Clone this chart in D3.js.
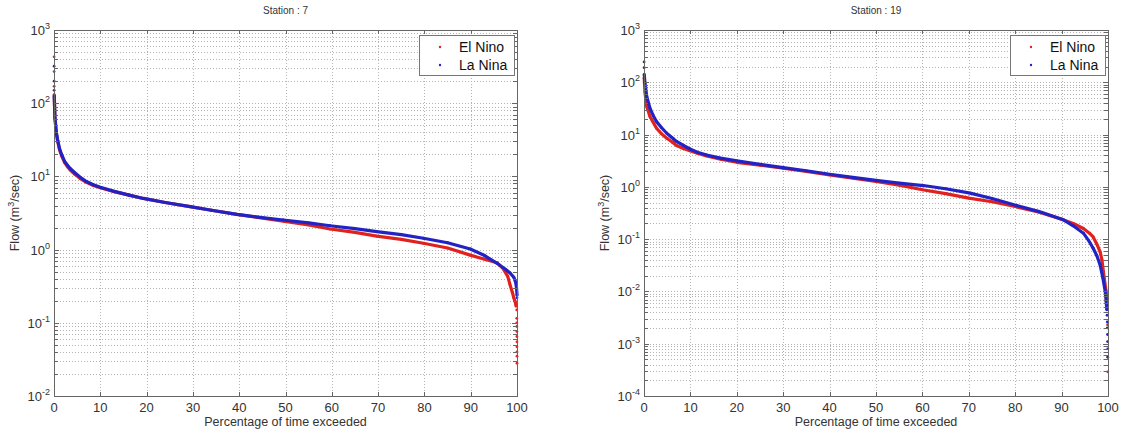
<!DOCTYPE html>
<html>
<head>
<meta charset="utf-8">
<script src="https://cdn.jsdelivr.net/npm/d3@7"></script>
<style>
  html, body { margin: 0; padding: 0; background: #fff; }
  svg { display: block; font-family: "Liberation Sans", Arial, sans-serif; }
</style>
</head>
<body>
<script>
// ---- Flow duration data: [percentage of time exceeded, flow (m3/sec)] ----

// Station 7
const elNino7 = [[0.05,130],[0.2,62],[0.5,39],[0.8,30],[1.2,23],[1.7,18.8],[2.3,15.4],[3,13.3],[3.5,12.2],[4.5,10.7],[5.6,9.4],[7,8.3],[8.5,7.5],[10,7.0],[12.8,6.25],[16,5.6],[19.3,5.0],[24,4.4],[29.4,3.87],[34,3.45],[39.5,3.03],[44,2.76],[49.5,2.45],[55,2.17],[59.6,1.91],[65,1.72],[69.7,1.53],[75,1.38],[79.8,1.22],[85,1.05],[89.9,0.84],[93,0.74],[95.7,0.66],[97,0.55],[98,0.43],[98.5,0.33],[99,0.26],[99.3,0.22],[99.6,0.195],[99.8,0.17]];
const laNina7 = [[0.05,125],[0.2,65],[0.5,40],[0.8,31],[1.2,24],[1.7,19.5],[2.3,16],[3,14],[3.5,12.8],[4.5,11.2],[5.6,9.8],[7,8.5],[8.5,7.7],[10,7.1],[12.8,6.3],[16,5.6],[19.3,5.0],[24,4.4],[29.4,3.87],[34,3.45],[39.5,3.03],[44,2.78],[49.5,2.54],[55,2.32],[59.6,2.12],[65,1.93],[69.7,1.76],[75,1.6],[79.8,1.43],[85,1.24],[89.9,1.02],[93,0.83],[95.7,0.65],[97.5,0.54],[98.5,0.48],[99.3,0.42],[99.7,0.36],[99.9,0.3],[100,0.24]];
// isolated extreme values at either end of the record
const elNino7Extremes = [[0.02,430],[0.02,270],[0.03,170],[99.95,0.15],[99.95,0.115],[99.97,0.1],[99.97,0.089],[99.98,0.076],[99.98,0.065],[99.99,0.055],[99.99,0.047],[100,0.04],[100,0.035],[100,0.028]];
const laNina7Extremes = [[0.02,320],[0.02,200],[0.03,150],[100,0.22]];

// Station 19
const elNino19 = [[0.05,120],[0.2,66],[0.6,34],[1.3,22],[2,17],[2.7,13.2],[3.8,10.3],[4.9,8.5],[6,7.3],[7,6.2],[8.5,5.4],[9.9,4.9],[11.5,4.4],[13.5,3.9],[16.5,3.4],[20,2.95],[25,2.6],[30,2.27],[35,1.97],[40,1.69],[45,1.47],[50,1.27],[55,1.08],[60,0.88],[65,0.74],[70,0.61],[75,0.52],[80,0.42],[85,0.33],[90,0.24],[92.5,0.2],[94.7,0.16],[96,0.13],[96.8,0.11],[97.6,0.08],[98.3,0.057],[98.7,0.04],[99,0.024],[99.3,0.015],[99.6,0.01],[99.75,0.007]];
const laNina19 = [[0.05,140],[0.2,100],[0.6,53],[1.3,31.6],[2,23],[2.7,17.7],[3.8,13.5],[4.9,10.6],[6,8.8],[7,7.4],[8.5,6.2],[9.9,5.3],[11.5,4.6],[13.5,4.07],[16.5,3.55],[20,3.13],[25,2.7],[30,2.33],[35,2.03],[40,1.74],[45,1.52],[50,1.33],[55,1.18],[60.2,1.06],[65,0.92],[70.3,0.76],[75,0.6],[80.3,0.44],[85,0.34],[90.4,0.234],[92.5,0.18],[94.7,0.13],[95.8,0.095],[96.8,0.067],[97.6,0.048],[98.3,0.032],[98.9,0.018],[99.4,0.01],[99.6,0.0065],[99.75,0.0045]];
const elNino19Extremes = [[99.9,0.0023],[99.95,0.00055],[99.95,0.00029]];
const laNina19Extremes = [[0.02,245],[0.02,190],[99.8,0.0035],[99.85,0.0026],[99.85,0.002],[99.9,0.0015],[99.9,0.0011],[99.95,0.0008],[99.95,0.00056]];

// ---- Axis ticks and labels ----
const xTicks = [0, 10, 20, 30, 40, 50, 60, 70, 80, 90, 100];
const yExponents7 = [-2, -1, 0, 1, 2, 3];
const yExponents19 = [-4, -3, -2, -1, 0, 1, 2, 3];
const stationTitles = ["Station : 7", "Station : 19"];
const seriesNames = ["El Nino", "La Nina"];
const xAxisLabel = "Percentage of time exceeded";

const colors = { elNino: "#e0221f", laNina: "#2323c4" };
const axisColor = "#666";
const textColor = "#333";

const svg = d3.select("body").append("svg")
  .attr("width", 1125).attr("height", 430);

function drawPanel(cfg) {
  const x = d3.scaleLinear().domain([0, 100]).range([cfg.left, cfg.right]);
  const y = d3.scaleLog()
    .domain([Math.pow(10, d3.min(cfg.exponents)), Math.pow(10, d3.max(cfg.exponents))])
    .range([cfg.bottom, cfg.top]);
  const g = svg.append("g");

  const yTickVals = y.ticks();
  const decadeVals = cfg.exponents.map(e => Math.pow(10, e));

  // dotted grid
  const grid = g.append("g")
    .attr("stroke", "#b4b4b4").attr("stroke-width", 1)
    .attr("stroke-dasharray", "1,2").attr("shape-rendering", "crispEdges");
  grid.selectAll("line.h").data(yTickVals.filter(v => v > y.domain()[0] * 1.0001 && v < y.domain()[1] * 0.9999))
    .join("line").attr("class", "h")
    .attr("x1", cfg.left).attr("x2", cfg.right)
    .attr("y1", d => Math.round(y(d)) + 0.5).attr("y2", d => Math.round(y(d)) + 0.5);
  grid.selectAll("line.v").data(xTicks.slice(1, -1))
    .join("line").attr("class", "v")
    .attr("y1", cfg.top).attr("y2", cfg.bottom)
    .attr("x1", d => Math.round(x(d)) + 0.5).attr("x2", d => Math.round(x(d)) + 0.5);

  // series
  const line = d3.line().x(d => x(d[0])).y(d => y(d[1]));
  cfg.series.forEach(s => {
    const sg = g.append("g");
    sg.append("path").datum(s.values)
      .attr("fill", "none").attr("stroke", s.color)
      .attr("stroke-width", 3.2).attr("stroke-linejoin", "round").attr("stroke-linecap", "round")
      .attr("d", line);
    sg.selectAll("circle").data(s.values.concat(s.extremes))
      .join("circle")
      .attr("cx", d => x(d[0])).attr("cy", d => y(d[1]))
      .attr("r", 1.4).attr("fill", s.color);
  });

  // axes box
  g.append("rect")
    .attr("x", cfg.left + 0.5).attr("y", cfg.top + 0.5)
    .attr("width", cfg.right - cfg.left).attr("height", cfg.bottom - cfg.top)
    .attr("fill", "none").attr("stroke", axisColor).attr("stroke-width", 1);

  // tick marks, pointing inward on all four sides
  const ticks = g.append("g").attr("stroke", axisColor).attr("stroke-width", 1)
    .attr("shape-rendering", "crispEdges");
  const tl = 4;
  ticks.selectAll("line.xb").data(xTicks).join("line").attr("class", "xb")
    .attr("x1", d => Math.round(x(d)) + 0.5).attr("x2", d => Math.round(x(d)) + 0.5)
    .attr("y1", cfg.bottom).attr("y2", cfg.bottom - tl);
  ticks.selectAll("line.xt").data(xTicks).join("line").attr("class", "xt")
    .attr("x1", d => Math.round(x(d)) + 0.5).attr("x2", d => Math.round(x(d)) + 0.5)
    .attr("y1", cfg.top).attr("y2", cfg.top + tl);
  ticks.selectAll("line.yl").data(yTickVals).join("line").attr("class", "yl")
    .attr("y1", d => Math.round(y(d)) + 0.5).attr("y2", d => Math.round(y(d)) + 0.5)
    .attr("x1", cfg.left).attr("x2", d => cfg.left + (decadeVals.some(v => Math.abs(v - d) < v * 1e-6) ? tl + 1 : tl));
  ticks.selectAll("line.yr").data(yTickVals).join("line").attr("class", "yr")
    .attr("y1", d => Math.round(y(d)) + 0.5).attr("y2", d => Math.round(y(d)) + 0.5)
    .attr("x1", cfg.right).attr("x2", d => cfg.right - (decadeVals.some(v => Math.abs(v - d) < v * 1e-6) ? tl + 1 : tl));

  // x tick labels
  g.append("g").selectAll("text").data(xTicks).join("text")
    .attr("x", d => x(d)).attr("y", cfg.bottom + 16)
    .attr("text-anchor", "middle").attr("font-size", 13).attr("fill", textColor)
    .text(d => d);

  // y tick labels: powers of ten
  const yl = g.append("g").selectAll("text").data(cfg.exponents).join("text")
    .attr("x", cfg.left - 4).attr("y", e => y(Math.pow(10, e)) + 5)
    .attr("text-anchor", "end").attr("font-size", 13).attr("fill", textColor);
  yl.append("tspan").text("10");
  yl.append("tspan").attr("dy", -6).attr("font-size", 9).text(e => e);

  // axis titles
  g.append("text")
    .attr("x", (cfg.left + cfg.right) / 2).attr("y", cfg.bottom + 30)
    .attr("text-anchor", "middle").attr("font-size", 12.5).attr("fill", textColor)
    .text(xAxisLabel);
  const yt = g.append("text")
    .attr("transform", `translate(${cfg.left - 35},${(cfg.top + cfg.bottom) / 2}) rotate(-90)`)
    .attr("text-anchor", "middle").attr("font-size", 12.5).attr("fill", textColor);
  yt.append("tspan").text("Flow (m");
  yt.append("tspan").attr("dy", -5).attr("font-size", 9).text("3");
  yt.append("tspan").attr("dy", 5).text("/sec)");

  g.append("text")
    .attr("x", (cfg.left + cfg.right) / 2).attr("y", cfg.top - 16)
    .attr("text-anchor", "middle").attr("font-size", 10).attr("fill", textColor)
    .text(cfg.title);

  // legend
  const lg = g.append("g").attr("transform", `translate(${cfg.right - 98},${cfg.top + 5})`);
  lg.append("rect").attr("x", 0.5).attr("y", 0.5).attr("width", 95).attr("height", 40)
    .attr("fill", "#fff").attr("stroke", "#777").attr("stroke-width", 1);
  cfg.series.forEach((s, i) => {
    lg.append("circle").attr("cx", 21).attr("cy", 12 + i * 18).attr("r", 1.2).attr("fill", s.color);
    lg.append("text").attr("x", 40).attr("y", 17 + i * 18)
      .attr("font-size", 14).attr("fill", "#111").text(s.name);
  });
}

drawPanel({
  title: stationTitles[0], left: 54, right: 517, top: 30, bottom: 396,
  exponents: yExponents7,
  series: [
    { name: seriesNames[0], values: elNino7, extremes: elNino7Extremes, color: colors.elNino },
    { name: seriesNames[1], values: laNina7, extremes: laNina7Extremes, color: colors.laNina }
  ]
});
drawPanel({
  title: stationTitles[1], left: 644, right: 1108, top: 30, bottom: 396,
  exponents: yExponents19,
  series: [
    { name: seriesNames[0], values: elNino19, extremes: elNino19Extremes, color: colors.elNino },
    { name: seriesNames[1], values: laNina19, extremes: laNina19Extremes, color: colors.laNina }
  ]
});
</script>
</body>
</html>
